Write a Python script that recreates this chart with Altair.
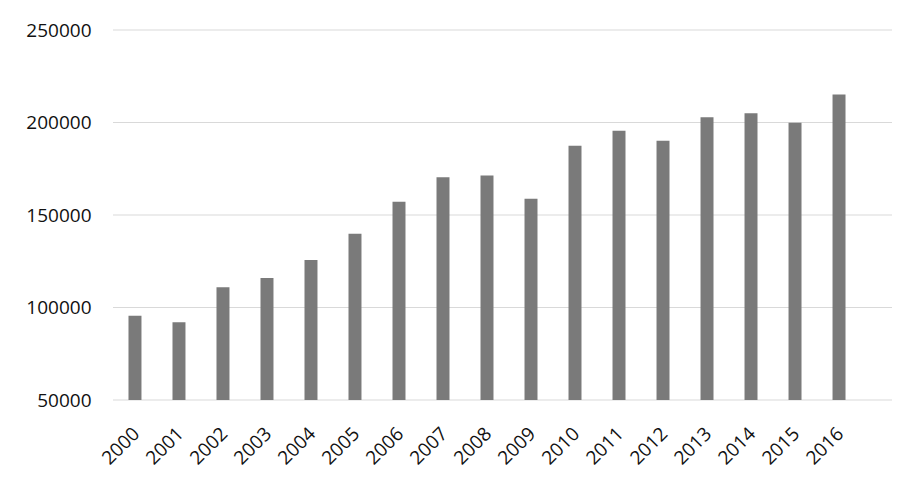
import altair as alt
import pandas as pd

years = [str(y) for y in range(2000, 2017)]
values = [95500, 92000, 110900, 116000, 125700, 139900, 157200, 170400, 171400,
          158800, 187500, 195600, 190200, 202800, 205000, 199900, 215200]
y_ticks = [50000, 100000, 150000, 200000, 250000]

df = pd.DataFrame({"year": years, "value": values})
grid_df = pd.DataFrame({"tick": y_ticks})

font = "Open Sans"
yscale = alt.Scale(domain=[50000, 250000], zero=False, nice=False)

grid = alt.Chart(grid_df).mark_rule(color="#d9d9d9", strokeWidth=1.2).encode(
    y=alt.Y("tick:Q", scale=yscale, title=None,
            axis=alt.Axis(values=y_ticks, domain=False, ticks=False, grid=False,
                          labelPadding=22, format="d",
                          labelFont=font, labelFontSize=19, labelColor="#111111")),
    x=alt.value(0),
    x2=alt.value(779),
)

bars = alt.Chart(df).mark_bar(color="#7a7a7a").encode(
    x=alt.X("year:N", sort=None, title=None,
            scale=alt.Scale(range=[0, 748], paddingInner=0.705, paddingOuter=0.352),
            axis=alt.Axis(labelAngle=-45, domain=False, ticks=False, labelPadding=24,
                          labelOffset=-5,
                          labelFont=font, labelFontSize=19, labelColor="#111111")),
    y=alt.Y("value:Q", scale=yscale, title=None),
    y2=alt.datum(50000),
)

chart = alt.layer(grid, bars).properties(
    width=779, height=370,
    autosize=alt.AutoSizeParams(type="none"),
    padding={"left": 105, "top": 22, "right": 0, "bottom": 80},
).configure_view(stroke=None).configure_axis(grid=False)

chart.save("out.html", embed_options={"renderer": "svg", "actions": False})
